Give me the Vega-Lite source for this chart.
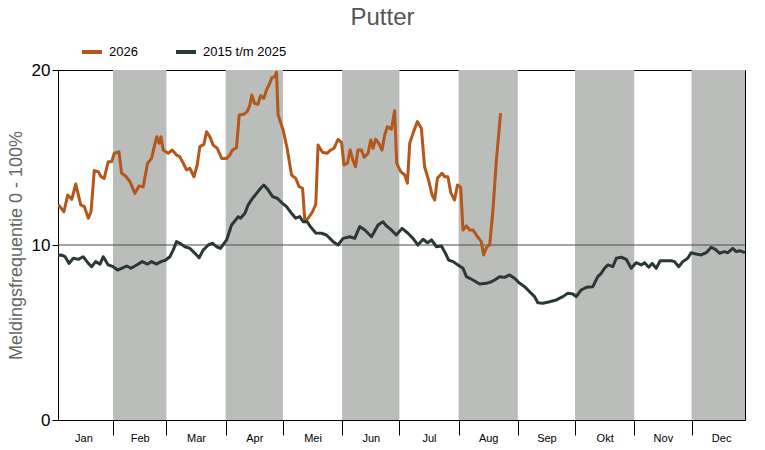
{
  "$schema": "https://vega.github.io/schema/vega-lite/v6.json",
  "width": 687,
  "height": 350,
  "autosize": {"type": "none"},
  "padding": {"left": 58, "top": 70, "right": 20, "bottom": 30},
  "title": {
    "text": "Putter",
    "fontSize": 24,
    "fontWeight": "normal",
    "color": "#555555",
    "font": "Liberation Sans",
    "anchor": "middle",
    "dx": -19,
    "offset": 10
  },
  "datasets": {
    "maanden": [
      {"start": 31, "eind": 59},
      {"start": 90, "eind": 120},
      {"start": 151, "eind": 181},
      {"start": 212, "eind": 243},
      {"start": 273, "eind": 304},
      {"start": 334, "eind": 365}
    ],
    "reeksen": [
      {"reeks": "2026", "dag": 2.2, "waarde": 12.3},
      {"reeks": "2026", "dag": 3.2, "waarde": 12.19},
      {"reeks": "2026", "dag": 5.3, "waarde": 11.9},
      {"reeks": "2026", "dag": 7.3, "waarde": 12.86},
      {"reeks": "2026", "dag": 9.4, "waarde": 12.61},
      {"reeks": "2026", "dag": 11.5, "waarde": 13.49},
      {"reeks": "2026", "dag": 14.1, "waarde": 12.29},
      {"reeks": "2026", "dag": 16.0, "waarde": 12.19},
      {"reeks": "2026", "dag": 18.1, "waarde": 11.53},
      {"reeks": "2026", "dag": 19.5, "waarde": 11.9},
      {"reeks": "2026", "dag": 21.2, "waarde": 14.25},
      {"reeks": "2026", "dag": 23.3, "waarde": 14.19},
      {"reeks": "2026", "dag": 24.7, "waarde": 13.9},
      {"reeks": "2026", "dag": 26.4, "waarde": 13.81},
      {"reeks": "2026", "dag": 28.5, "waarde": 14.76},
      {"reeks": "2026", "dag": 30.3, "waarde": 14.76},
      {"reeks": "2026", "dag": 31.7, "waarde": 15.24},
      {"reeks": "2026", "dag": 34.1, "waarde": 15.33},
      {"reeks": "2026", "dag": 35.5, "waarde": 14.1},
      {"reeks": "2026", "dag": 37.6, "waarde": 13.94},
      {"reeks": "2026", "dag": 39.9, "waarde": 13.62},
      {"reeks": "2026", "dag": 42.5, "waarde": 12.95},
      {"reeks": "2026", "dag": 44.6, "waarde": 13.37},
      {"reeks": "2026", "dag": 46.8, "waarde": 13.33},
      {"reeks": "2026", "dag": 49.1, "waarde": 14.67},
      {"reeks": "2026", "dag": 51.2, "waarde": 14.95},
      {"reeks": "2026", "dag": 52.6, "waarde": 15.62},
      {"reeks": "2026", "dag": 53.9, "waarde": 16.19},
      {"reeks": "2026", "dag": 55.2, "waarde": 15.81},
      {"reeks": "2026", "dag": 56.1, "waarde": 16.19},
      {"reeks": "2026", "dag": 57.3, "waarde": 15.43},
      {"reeks": "2026", "dag": 59.9, "waarde": 15.24},
      {"reeks": "2026", "dag": 62.0, "waarde": 15.43},
      {"reeks": "2026", "dag": 64.3, "waarde": 15.14},
      {"reeks": "2026", "dag": 66.0, "waarde": 15.05},
      {"reeks": "2026", "dag": 67.8, "waarde": 14.67},
      {"reeks": "2026", "dag": 69.5, "waarde": 14.29},
      {"reeks": "2026", "dag": 71.3, "waarde": 14.38},
      {"reeks": "2026", "dag": 73.4, "waarde": 13.9},
      {"reeks": "2026", "dag": 75.1, "waarde": 14.57},
      {"reeks": "2026", "dag": 76.5, "waarde": 15.62},
      {"reeks": "2026", "dag": 78.6, "waarde": 15.75},
      {"reeks": "2026", "dag": 80.0, "waarde": 16.47},
      {"reeks": "2026", "dag": 81.7, "waarde": 16.19},
      {"reeks": "2026", "dag": 83.5, "waarde": 15.71},
      {"reeks": "2026", "dag": 85.6, "waarde": 15.53},
      {"reeks": "2026", "dag": 87.9, "waarde": 14.95},
      {"reeks": "2026", "dag": 90.5, "waarde": 14.95},
      {"reeks": "2026", "dag": 92.2, "waarde": 15.14},
      {"reeks": "2026", "dag": 93.6, "waarde": 15.43},
      {"reeks": "2026", "dag": 95.7, "waarde": 15.56},
      {"reeks": "2026", "dag": 97.1, "waarde": 17.43},
      {"reeks": "2026", "dag": 99.5, "waarde": 17.47},
      {"reeks": "2026", "dag": 101.3, "waarde": 17.62},
      {"reeks": "2026", "dag": 102.7, "waarde": 18.0},
      {"reeks": "2026", "dag": 103.7, "waarde": 18.57},
      {"reeks": "2026", "dag": 105.1, "waarde": 18.1},
      {"reeks": "2026", "dag": 106.9, "waarde": 18.04},
      {"reeks": "2026", "dag": 108.3, "waarde": 18.53},
      {"reeks": "2026", "dag": 110.0, "waarde": 18.38},
      {"reeks": "2026", "dag": 111.4, "waarde": 18.86},
      {"reeks": "2026", "dag": 113.1, "waarde": 19.24},
      {"reeks": "2026", "dag": 114.2, "waarde": 19.56},
      {"reeks": "2026", "dag": 115.8, "waarde": 19.62},
      {"reeks": "2026", "dag": 116.6, "waarde": 19.87},
      {"reeks": "2026", "dag": 117.5, "waarde": 17.43},
      {"reeks": "2026", "dag": 120.1, "waarde": 16.57},
      {"reeks": "2026", "dag": 122.2, "waarde": 15.53},
      {"reeks": "2026", "dag": 124.5, "waarde": 14.0},
      {"reeks": "2026", "dag": 126.7, "waarde": 13.81},
      {"reeks": "2026", "dag": 128.5, "waarde": 13.33},
      {"reeks": "2026", "dag": 130.3, "waarde": 13.24},
      {"reeks": "2026", "dag": 131.5, "waarde": 11.33},
      {"reeks": "2026", "dag": 133.2, "waarde": 11.53},
      {"reeks": "2026", "dag": 135.5, "waarde": 11.9},
      {"reeks": "2026", "dag": 137.2, "waarde": 12.33},
      {"reeks": "2026", "dag": 138.4, "waarde": 15.71},
      {"reeks": "2026", "dag": 140.7, "waarde": 15.3},
      {"reeks": "2026", "dag": 143.1, "waarde": 15.24},
      {"reeks": "2026", "dag": 145.1, "waarde": 15.43},
      {"reeks": "2026", "dag": 146.8, "waarde": 15.53},
      {"reeks": "2026", "dag": 148.9, "waarde": 16.04},
      {"reeks": "2026", "dag": 150.7, "waarde": 15.85},
      {"reeks": "2026", "dag": 152.0, "waarde": 14.57},
      {"reeks": "2026", "dag": 153.8, "waarde": 14.67},
      {"reeks": "2026", "dag": 155.2, "waarde": 15.43},
      {"reeks": "2026", "dag": 156.6, "waarde": 14.86},
      {"reeks": "2026", "dag": 158.0, "waarde": 14.47},
      {"reeks": "2026", "dag": 159.3, "waarde": 15.43},
      {"reeks": "2026", "dag": 161.1, "waarde": 15.43},
      {"reeks": "2026", "dag": 162.5, "waarde": 15.01},
      {"reeks": "2026", "dag": 164.6, "waarde": 15.24},
      {"reeks": "2026", "dag": 166.0, "waarde": 16.0},
      {"reeks": "2026", "dag": 167.2, "waarde": 15.53},
      {"reeks": "2026", "dag": 168.5, "waarde": 16.04},
      {"reeks": "2026", "dag": 170.2, "waarde": 15.81},
      {"reeks": "2026", "dag": 171.9, "waarde": 15.43},
      {"reeks": "2026", "dag": 173.3, "waarde": 16.29},
      {"reeks": "2026", "dag": 174.7, "waarde": 16.76},
      {"reeks": "2026", "dag": 176.8, "waarde": 16.61},
      {"reeks": "2026", "dag": 178.5, "waarde": 17.67},
      {"reeks": "2026", "dag": 179.6, "waarde": 14.67},
      {"reeks": "2026", "dag": 181.7, "waarde": 14.19},
      {"reeks": "2026", "dag": 183.8, "waarde": 14.0},
      {"reeks": "2026", "dag": 185.2, "waarde": 13.53},
      {"reeks": "2026", "dag": 186.4, "waarde": 15.81},
      {"reeks": "2026", "dag": 188.1, "waarde": 16.38},
      {"reeks": "2026", "dag": 190.4, "waarde": 17.05},
      {"reeks": "2026", "dag": 192.5, "waarde": 16.67},
      {"reeks": "2026", "dag": 194.2, "waarde": 14.47},
      {"reeks": "2026", "dag": 196.3, "waarde": 13.71},
      {"reeks": "2026", "dag": 198.1, "waarde": 12.86},
      {"reeks": "2026", "dag": 199.5, "waarde": 12.57},
      {"reeks": "2026", "dag": 200.9, "waarde": 13.81},
      {"reeks": "2026", "dag": 203.3, "waarde": 14.1},
      {"reeks": "2026", "dag": 204.7, "waarde": 13.9},
      {"reeks": "2026", "dag": 206.4, "waarde": 13.9},
      {"reeks": "2026", "dag": 207.9, "waarde": 12.99},
      {"reeks": "2026", "dag": 209.9, "waarde": 12.57},
      {"reeks": "2026", "dag": 211.4, "waarde": 13.43},
      {"reeks": "2026", "dag": 213.1, "waarde": 13.3},
      {"reeks": "2026", "dag": 214.3, "waarde": 10.86},
      {"reeks": "2026", "dag": 216.1, "waarde": 11.09},
      {"reeks": "2026", "dag": 217.8, "waarde": 10.86},
      {"reeks": "2026", "dag": 219.5, "waarde": 10.86},
      {"reeks": "2026", "dag": 221.3, "waarde": 10.57},
      {"reeks": "2026", "dag": 223.9, "waarde": 10.19},
      {"reeks": "2026", "dag": 225.1, "waarde": 9.43},
      {"reeks": "2026", "dag": 226.8, "waarde": 9.9},
      {"reeks": "2026", "dag": 228.3, "waarde": 10.0},
      {"reeks": "2026", "dag": 230.0, "waarde": 12.0},
      {"reeks": "2026", "dag": 231.8, "waarde": 14.86},
      {"reeks": "2026", "dag": 234.0, "waarde": 17.53},
      {"reeks": "2015 t/m 2025", "dag": 2.2, "waarde": 9.4},
      {"reeks": "2015 t/m 2025", "dag": 3.8, "waarde": 9.43},
      {"reeks": "2015 t/m 2025", "dag": 5.9, "waarde": 9.33},
      {"reeks": "2015 t/m 2025", "dag": 8.0, "waarde": 8.95},
      {"reeks": "2015 t/m 2025", "dag": 10.2, "waarde": 9.24},
      {"reeks": "2015 t/m 2025", "dag": 12.8, "waarde": 9.18},
      {"reeks": "2015 t/m 2025", "dag": 15.4, "waarde": 9.33},
      {"reeks": "2015 t/m 2025", "dag": 18.1, "waarde": 8.95},
      {"reeks": "2015 t/m 2025", "dag": 19.8, "waarde": 8.76},
      {"reeks": "2015 t/m 2025", "dag": 21.9, "waarde": 9.05},
      {"reeks": "2015 t/m 2025", "dag": 24.2, "waarde": 8.91},
      {"reeks": "2015 t/m 2025", "dag": 25.9, "waarde": 9.33},
      {"reeks": "2015 t/m 2025", "dag": 28.5, "waarde": 8.86},
      {"reeks": "2015 t/m 2025", "dag": 31.1, "waarde": 8.76},
      {"reeks": "2015 t/m 2025", "dag": 33.4, "waarde": 8.57},
      {"reeks": "2015 t/m 2025", "dag": 35.5, "waarde": 8.67},
      {"reeks": "2015 t/m 2025", "dag": 38.2, "waarde": 8.8},
      {"reeks": "2015 t/m 2025", "dag": 40.4, "waarde": 8.67},
      {"reeks": "2015 t/m 2025", "dag": 43.4, "waarde": 8.86},
      {"reeks": "2015 t/m 2025", "dag": 46.3, "waarde": 9.05},
      {"reeks": "2015 t/m 2025", "dag": 49.1, "waarde": 8.91},
      {"reeks": "2015 t/m 2025", "dag": 51.2, "waarde": 9.05},
      {"reeks": "2015 t/m 2025", "dag": 53.9, "waarde": 8.91},
      {"reeks": "2015 t/m 2025", "dag": 56.1, "waarde": 9.05},
      {"reeks": "2015 t/m 2025", "dag": 58.6, "waarde": 9.14},
      {"reeks": "2015 t/m 2025", "dag": 60.8, "waarde": 9.33},
      {"reeks": "2015 t/m 2025", "dag": 62.5, "waarde": 9.71},
      {"reeks": "2015 t/m 2025", "dag": 64.3, "waarde": 10.19},
      {"reeks": "2015 t/m 2025", "dag": 66.0, "waarde": 10.1},
      {"reeks": "2015 t/m 2025", "dag": 68.7, "waarde": 9.9},
      {"reeks": "2015 t/m 2025", "dag": 71.3, "waarde": 9.81},
      {"reeks": "2015 t/m 2025", "dag": 73.9, "waarde": 9.53},
      {"reeks": "2015 t/m 2025", "dag": 76.1, "waarde": 9.27},
      {"reeks": "2015 t/m 2025", "dag": 78.2, "waarde": 9.71},
      {"reeks": "2015 t/m 2025", "dag": 80.9, "waarde": 10.0},
      {"reeks": "2015 t/m 2025", "dag": 83.2, "waarde": 10.1},
      {"reeks": "2015 t/m 2025", "dag": 85.2, "waarde": 9.9},
      {"reeks": "2015 t/m 2025", "dag": 87.3, "waarde": 9.81},
      {"reeks": "2015 t/m 2025", "dag": 90.5, "waarde": 10.29},
      {"reeks": "2015 t/m 2025", "dag": 93.1, "waarde": 11.14},
      {"reeks": "2015 t/m 2025", "dag": 94.8, "waarde": 11.37},
      {"reeks": "2015 t/m 2025", "dag": 96.6, "waarde": 11.62},
      {"reeks": "2015 t/m 2025", "dag": 97.8, "waarde": 11.53},
      {"reeks": "2015 t/m 2025", "dag": 100.1, "waarde": 11.81},
      {"reeks": "2015 t/m 2025", "dag": 101.8, "waarde": 12.29},
      {"reeks": "2015 t/m 2025", "dag": 104.1, "waarde": 12.67},
      {"reeks": "2015 t/m 2025", "dag": 106.2, "waarde": 12.95},
      {"reeks": "2015 t/m 2025", "dag": 108.3, "waarde": 13.24},
      {"reeks": "2015 t/m 2025", "dag": 110.0, "waarde": 13.43},
      {"reeks": "2015 t/m 2025", "dag": 112.3, "waarde": 13.14},
      {"reeks": "2015 t/m 2025", "dag": 114.6, "waarde": 12.76},
      {"reeks": "2015 t/m 2025", "dag": 117.0, "waarde": 12.67},
      {"reeks": "2015 t/m 2025", "dag": 119.8, "waarde": 12.38},
      {"reeks": "2015 t/m 2025", "dag": 121.9, "waarde": 12.19},
      {"reeks": "2015 t/m 2025", "dag": 124.5, "waarde": 11.81},
      {"reeks": "2015 t/m 2025", "dag": 126.7, "waarde": 11.53},
      {"reeks": "2015 t/m 2025", "dag": 128.8, "waarde": 11.62},
      {"reeks": "2015 t/m 2025", "dag": 130.6, "waarde": 11.33},
      {"reeks": "2015 t/m 2025", "dag": 132.7, "waarde": 11.33},
      {"reeks": "2015 t/m 2025", "dag": 134.4, "waarde": 11.05},
      {"reeks": "2015 t/m 2025", "dag": 137.2, "waarde": 10.69},
      {"reeks": "2015 t/m 2025", "dag": 140.2, "waarde": 10.67},
      {"reeks": "2015 t/m 2025", "dag": 142.8, "waarde": 10.57},
      {"reeks": "2015 t/m 2025", "dag": 146.3, "waarde": 10.19},
      {"reeks": "2015 t/m 2025", "dag": 148.9, "waarde": 10.0},
      {"reeks": "2015 t/m 2025", "dag": 151.5, "waarde": 10.38},
      {"reeks": "2015 t/m 2025", "dag": 155.0, "waarde": 10.47},
      {"reeks": "2015 t/m 2025", "dag": 157.6, "waarde": 10.38},
      {"reeks": "2015 t/m 2025", "dag": 160.2, "waarde": 11.05},
      {"reeks": "2015 t/m 2025", "dag": 162.9, "waarde": 10.86},
      {"reeks": "2015 t/m 2025", "dag": 166.4, "waarde": 10.47},
      {"reeks": "2015 t/m 2025", "dag": 169.8, "waarde": 11.14},
      {"reeks": "2015 t/m 2025", "dag": 172.4, "waarde": 11.33},
      {"reeks": "2015 t/m 2025", "dag": 174.2, "waarde": 11.09},
      {"reeks": "2015 t/m 2025", "dag": 176.8, "waarde": 10.86},
      {"reeks": "2015 t/m 2025", "dag": 179.4, "waarde": 10.57},
      {"reeks": "2015 t/m 2025", "dag": 182.4, "waarde": 10.95},
      {"reeks": "2015 t/m 2025", "dag": 185.5, "waarde": 10.67},
      {"reeks": "2015 t/m 2025", "dag": 188.1, "waarde": 10.38},
      {"reeks": "2015 t/m 2025", "dag": 190.7, "waarde": 10.0},
      {"reeks": "2015 t/m 2025", "dag": 193.4, "waarde": 10.33},
      {"reeks": "2015 t/m 2025", "dag": 195.7, "waarde": 10.13},
      {"reeks": "2015 t/m 2025", "dag": 197.8, "waarde": 10.29},
      {"reeks": "2015 t/m 2025", "dag": 200.4, "waarde": 9.9},
      {"reeks": "2015 t/m 2025", "dag": 203.0, "waarde": 9.94},
      {"reeks": "2015 t/m 2025", "dag": 205.1, "waarde": 9.53},
      {"reeks": "2015 t/m 2025", "dag": 206.8, "waarde": 9.14},
      {"reeks": "2015 t/m 2025", "dag": 209.1, "waarde": 9.05},
      {"reeks": "2015 t/m 2025", "dag": 211.7, "waarde": 8.86},
      {"reeks": "2015 t/m 2025", "dag": 214.3, "waarde": 8.67},
      {"reeks": "2015 t/m 2025", "dag": 216.1, "waarde": 8.19},
      {"reeks": "2015 t/m 2025", "dag": 219.5, "waarde": 8.0},
      {"reeks": "2015 t/m 2025", "dag": 223.0, "waarde": 7.77},
      {"reeks": "2015 t/m 2025", "dag": 226.5, "waarde": 7.81},
      {"reeks": "2015 t/m 2025", "dag": 229.2, "waarde": 7.9},
      {"reeks": "2015 t/m 2025", "dag": 230.9, "waarde": 8.0},
      {"reeks": "2015 t/m 2025", "dag": 233.5, "waarde": 8.19},
      {"reeks": "2015 t/m 2025", "dag": 236.1, "waarde": 8.15},
      {"reeks": "2015 t/m 2025", "dag": 238.7, "waarde": 8.29},
      {"reeks": "2015 t/m 2025", "dag": 241.3, "waarde": 8.1},
      {"reeks": "2015 t/m 2025", "dag": 244.0, "waarde": 7.81},
      {"reeks": "2015 t/m 2025", "dag": 246.6, "waarde": 7.62},
      {"reeks": "2015 t/m 2025", "dag": 249.2, "waarde": 7.33},
      {"reeks": "2015 t/m 2025", "dag": 251.8, "waarde": 7.05},
      {"reeks": "2015 t/m 2025", "dag": 253.5, "waarde": 6.7},
      {"reeks": "2015 t/m 2025", "dag": 256.2, "waarde": 6.67},
      {"reeks": "2015 t/m 2025", "dag": 259.7, "waarde": 6.76},
      {"reeks": "2015 t/m 2025", "dag": 263.2, "waarde": 6.86},
      {"reeks": "2015 t/m 2025", "dag": 266.6, "waarde": 7.05},
      {"reeks": "2015 t/m 2025", "dag": 269.2, "waarde": 7.24},
      {"reeks": "2015 t/m 2025", "dag": 271.9, "waarde": 7.2},
      {"reeks": "2015 t/m 2025", "dag": 273.6, "waarde": 7.05},
      {"reeks": "2015 t/m 2025", "dag": 276.2, "waarde": 7.43},
      {"reeks": "2015 t/m 2025", "dag": 278.9, "waarde": 7.58},
      {"reeks": "2015 t/m 2025", "dag": 282.3, "waarde": 7.62},
      {"reeks": "2015 t/m 2025", "dag": 284.9, "waarde": 8.19},
      {"reeks": "2015 t/m 2025", "dag": 286.7, "waarde": 8.38},
      {"reeks": "2015 t/m 2025", "dag": 288.4, "waarde": 8.67},
      {"reeks": "2015 t/m 2025", "dag": 290.2, "waarde": 8.86},
      {"reeks": "2015 t/m 2025", "dag": 292.8, "waarde": 8.76},
      {"reeks": "2015 t/m 2025", "dag": 294.6, "waarde": 9.24},
      {"reeks": "2015 t/m 2025", "dag": 297.2, "waarde": 9.3},
      {"reeks": "2015 t/m 2025", "dag": 299.8, "waarde": 9.18},
      {"reeks": "2015 t/m 2025", "dag": 302.4, "waarde": 8.67},
      {"reeks": "2015 t/m 2025", "dag": 305.0, "waarde": 8.99},
      {"reeks": "2015 t/m 2025", "dag": 307.6, "waarde": 8.86},
      {"reeks": "2015 t/m 2025", "dag": 309.4, "waarde": 8.99},
      {"reeks": "2015 t/m 2025", "dag": 311.6, "waarde": 8.73},
      {"reeks": "2015 t/m 2025", "dag": 313.4, "waarde": 8.95},
      {"reeks": "2015 t/m 2025", "dag": 315.5, "waarde": 8.67},
      {"reeks": "2015 t/m 2025", "dag": 317.6, "waarde": 9.1},
      {"reeks": "2015 t/m 2025", "dag": 319.8, "waarde": 9.1},
      {"reeks": "2015 t/m 2025", "dag": 323.3, "waarde": 9.1},
      {"reeks": "2015 t/m 2025", "dag": 325.1, "waarde": 9.05},
      {"reeks": "2015 t/m 2025", "dag": 327.3, "waarde": 8.76},
      {"reeks": "2015 t/m 2025", "dag": 329.4, "waarde": 9.05},
      {"reeks": "2015 t/m 2025", "dag": 332.0, "waarde": 9.24},
      {"reeks": "2015 t/m 2025", "dag": 333.8, "waarde": 9.56},
      {"reeks": "2015 t/m 2025", "dag": 336.4, "waarde": 9.49},
      {"reeks": "2015 t/m 2025", "dag": 339.0, "waarde": 9.43},
      {"reeks": "2015 t/m 2025", "dag": 341.7, "waarde": 9.56},
      {"reeks": "2015 t/m 2025", "dag": 344.3, "waarde": 9.87},
      {"reeks": "2015 t/m 2025", "dag": 346.5, "waarde": 9.75},
      {"reeks": "2015 t/m 2025", "dag": 348.6, "waarde": 9.53},
      {"reeks": "2015 t/m 2025", "dag": 351.2, "waarde": 9.62},
      {"reeks": "2015 t/m 2025", "dag": 353.0, "waarde": 9.56},
      {"reeks": "2015 t/m 2025", "dag": 355.6, "waarde": 9.81},
      {"reeks": "2015 t/m 2025", "dag": 357.4, "waarde": 9.62},
      {"reeks": "2015 t/m 2025", "dag": 359.4, "waarde": 9.67},
      {"reeks": "2015 t/m 2025", "dag": 362.0, "waarde": 9.56}
    ]
  },
  "layer": [
    {
      "data": {"name": "maanden"},
      "mark": {"type": "rect", "color": "#babdb9", "clip": true},
      "encoding": {
        "x": {
          "field": "start",
          "type": "quantitative",
          "scale": {"domain": [2.2, 362], "nice": false, "zero": false},
          "axis": {
            "orient": "bottom",
            "values": [31, 59, 90, 120, 151, 181, 212, 243, 273, 304, 334],
            "labels": false,
            "ticks": true,
            "tickSize": 15,
            "tickColor": "#000000",
            "domainColor": "#000000",
            "grid": false,
            "title": null
          }
        },
        "x2": {"field": "eind"}
      }
    },
    {
      "data": {"values": [{}]},
      "mark": {"type": "rule", "color": "#4d4d4d", "strokeWidth": 1},
      "encoding": {"y": {"datum": 10, "type": "quantitative"}}
    },
    {
      "data": {"name": "reeksen"},
      "mark": {"type": "line", "strokeWidth": 3, "clip": true, "strokeJoin": "round"},
      "encoding": {
        "x": {
          "field": "dag",
          "type": "quantitative",
          "axis": {
            "orient": "bottom",
            "values": [15.5, 45, 74.5, 105, 135.5, 166, 196.5, 227.5, 258, 288.5, 319, 349.5],
            "labelExpr": "['Jan','Feb','Mar','Apr','Mei','Jun','Jul','Aug','Sep','Okt','Nov','Dec'][floor(datum.value / 30.5)]",
            "ticks": false,
            "domain": false,
            "grid": false,
            "title": null,
            "labelFontSize": 11,
            "labelPadding": 12,
            "labelColor": "#000000",
            "labelOverlap": false,
            "labelFlush": false
          }
        },
        "y": {
          "field": "waarde",
          "type": "quantitative",
          "scale": {"domain": [0, 20], "nice": false},
          "axis": {
            "values": [0, 10, 20],
            "title": "Meldingsfrequentie 0 - 100%",
            "titleFontSize": 18,
            "titleFontWeight": "normal",
            "titleColor": "#666666",
            "titlePadding": 6,
            "labelFontSize": 17,
            "labelColor": "#000000",
            "labelPadding": 2,
            "labelFlush": false,
            "tickColor": "#000000",
            "tickSize": 6,
            "domainColor": "#000000",
            "grid": false
          }
        },
        "color": {
          "field": "reeks",
          "type": "nominal",
          "scale": {"domain": ["2026", "2015 t/m 2025"], "range": ["#b5561b", "#2b3833"]},
          "legend": {
            "orient": "none",
            "legendX": 22,
            "legendY": -30,
            "direction": "horizontal",
            "title": null,
            "symbolType": "stroke",
            "symbolStrokeWidth": 4,
            "symbolSize": 400,
            "labelFontSize": 13,
            "labelColor": "#000000",
            "labelOffset": 5,
            "columnPadding": 30
          }
        }
      }
    }
  ],
  "resolve": {"axis": {"x": "independent"}},
  "config": {
    "font": "Liberation Sans",
    "view": {"stroke": "#000000", "strokeWidth": 1}
  }
}
